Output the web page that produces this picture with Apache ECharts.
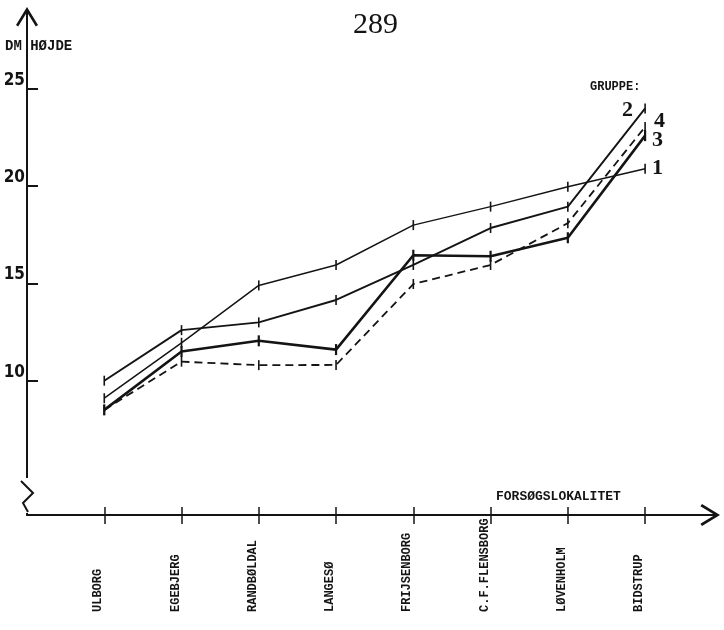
<!DOCTYPE html>
<html>
<head>
<meta charset="utf-8">
<script src="https://cdn.jsdelivr.net/npm/echarts@6/dist/echarts.min.js"></script>
<style>
html,body{margin:0;padding:0;background:#fff;}
#chart{width:724px;height:630px;}
</style>
</head>
<body>
<div id="chart"></div>
<script>
const categories = ['ULBORG','EGEBJERG','RANDBØLDAL','LANGESØ','FRIJSENBORG','C.F.FLENSBORG','LØVENHOLM','BIDSTRUP'];
const group1 = [9.1, 11.95, 14.9, 15.95, 18.0, 18.95, 19.97, 20.9];
const group2 = [10.0, 12.6, 13.0, 14.15, 15.95, 17.85, 18.95, 24.0];
const group3 = [8.5, 11.5, 12.05, 11.6, 16.45, 16.4, 17.35, 22.6];
const group4 = [8.5, 10.98, 10.8, 10.81, 14.97, 15.95, 18.1, 23.05];
const groupNames = ['1', '2', '3', '4'];
const yTickValues = [10, 15, 20, 25];
const xTickValues = categories.map((c, i) => i);

const INK = '#141414';
const LETTER = '"DejaVu Sans Condensed", "DejaVu Sans", sans-serif';
const MONO = '"Liberation Mono", "DejaVu Sans Mono", monospace';
const DIGIT = '"Liberation Serif", "DejaVu Serif", serif';
const ARROW = 'path://M0,18 L11,0 L22,18 L19.8,19.6 L12,6.8 L12,20 L10,20 L10,6.8 L2.2,19.6 Z';

const chart = echarts.init(document.getElementById('chart'), null, {renderer: 'canvas'});

function toPts(arr) { return arr.map((v, i) => [i, v]); }

function lineSeries(name, arr, width, dashed, mark, endOffset) {
  return {
    type: 'line',
    name: name,
    data: toPts(arr),
    xAxisIndex: 0,
    yAxisIndex: 0,
    symbol: 'rect',
    symbolSize: mark,
    showSymbol: true,
    itemStyle: {color: INK},
    lineStyle: {color: INK, width: width, type: dashed ? [8, 5] : 'solid'},
    endLabel: {
      show: true,
      formatter: name,
      color: INK,
      fontFamily: DIGIT,
      fontWeight: 'bold',
      fontSize: 22,
      offset: endOffset
    },
    emphasis: {disabled: true},
    z: 3
  };
}

const option = {
  animation: false,
  backgroundColor: '#ffffff',
  grid: {left: 27, right: 14, top: 17, bottom: 115, containLabel: false},
  xAxis: [{
    type: 'value',
    min: -1,
    max: 7.84,
    interval: 1,
    splitLine: {show: false},
    axisLine: {show: true, onZero: false, lineStyle: {color: INK, width: 2}, symbol: ['none', ARROW], symbolSize: [22, 20]},
    axisTick: {show: true, customValues: xTickValues, length: 9, lineStyle: {color: INK, width: 1.5}},
    axisLabel: {
      show: true,
      customValues: xTickValues,
      formatter: v => categories[Math.round(v)] || '',
      rotate: 90,
      align: 'left',
      verticalAlign: 'bottom',
      margin: 97,
      color: INK,
      fontFamily: MONO,
      fontWeight: 'bold',
      fontSize: 12
    }
  }, {
    type: 'value',
    position: 'bottom',
    min: -1,
    max: 7.84,
    interval: 1,
    splitLine: {show: false},
    axisLine: {show: false, onZero: false},
    axisTick: {show: true, inside: true, customValues: xTickValues, length: 8, lineStyle: {color: INK, width: 1.5}},
    axisLabel: {show: false}
  }],
  yAxis: [{
    type: 'value',
    min: 3.095,
    max: 28.70,
    splitLine: {show: false},
    axisLine: {show: true, onZero: false, lineStyle: {color: INK, width: 2}, symbol: ['none', ARROW], symbolSize: [22, 20]},
    axisTick: {show: true, inside: true, customValues: yTickValues, length: 11, lineStyle: {color: INK, width: 2}},
    axisLabel: {
      show: true,
      customValues: yTickValues,
      verticalAlign: 'bottom',
      margin: 2,
      color: INK,
      fontFamily: LETTER,
      fontWeight: 'bold',
      fontSize: 17
    }
  }],
  series: [
    lineSeries(groupNames[0], group1, 1.5, false, [1.6, 10], [-1, 0]),
    lineSeries(groupNames[1], group2, 1.9, false, [1.6, 10], [-31, 2]),
    lineSeries(groupNames[2], group3, 2.6, false, [2.2, 11], [-1, 5]),
    lineSeries(groupNames[3], group4, 1.8, true, [1.6, 10], [1, -6])
  ],
  graphic: [
    {type: 'text', left: 353, top: 10, z: 100, style: {text: '289', font: '30px "Liberation Serif", serif', fill: INK}},
    {type: 'text', left: 5, top: 39, z: 100, style: {text: 'DM HØJDE', font: 'bold 14px ' + MONO, fill: INK}},
    {type: 'text', left: 590, top: 81, z: 100, style: {text: 'GRUPPE:', font: 'bold 12px ' + MONO, fill: INK}},
    {type: 'text', left: 496, top: 490, z: 100, style: {text: 'FORSØGSLOKALITET', font: 'bold 13px ' + MONO, fill: INK}},
    {type: 'rect', shape: {x: 23, y: 478, width: 8, height: 35}, z: 100, style: {fill: '#ffffff'}},
    {type: 'polyline', shape: {points: [[21, 481], [33, 493], [23, 503], [28, 512]]}, z: 101, style: {stroke: INK, lineWidth: 2, fill: null}}
  ]
};

chart.setOption(option);
</script>
</body>
</html>
